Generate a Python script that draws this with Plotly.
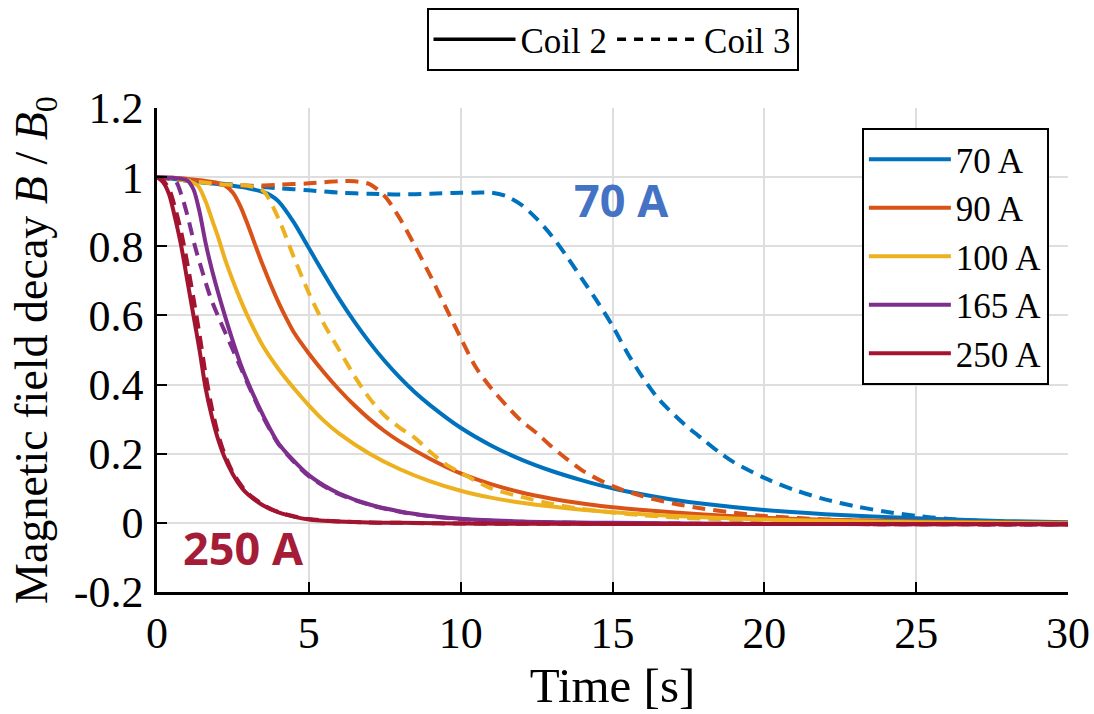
import plotly.graph_objects as go

# Normalised field decay B/B0 after quench, coil 2 (solid) and coil 3 (dashed)
currents = ["70 A", "90 A", "100 A", "165 A", "250 A"]
colors = ["#0072BD", "#D95319", "#EDB120", "#7E2F8E", "#A2142F"]

# --- coil 2 ---
t_c2_70 = [0, 0.5, 1, 1.5, 2, 2.5, 3, 3.5, 3.75, 4, 4.5, 5, 5.5, 6, 6.5, 7, 7.5, 8, 8.5, 9, 10,
           11, 12, 13, 14, 15, 16, 17, 18, 20, 22, 25, 28, 30]
b_c2_70 = [1, 0.995, 0.99, 0.985, 0.98, 0.975, 0.968, 0.957, 0.947, 0.93, 0.87, 0.795, 0.72,
           0.648, 0.582, 0.522, 0.468, 0.42, 0.377, 0.34, 0.275, 0.224, 0.183, 0.15, 0.123, 0.1,
           0.082, 0.067, 0.055, 0.037, 0.025, 0.013, 0.005, 0.002]

t_c2_90 = [0, 0.5, 1, 1.5, 2, 2.25, 2.5, 2.75, 3.0, 3.25, 3.5, 3.75, 4.0, 4.25, 4.5, 5, 5.5, 6,
           6.5, 7, 7.5, 8, 9, 10, 11, 12, 13, 14, 15, 16, 18, 20, 22, 25, 30]
b_c2_90 = [1, 0.998, 0.995, 0.99, 0.983, 0.975, 0.955, 0.915, 0.86, 0.8, 0.742, 0.688, 0.638,
           0.593, 0.552, 0.49, 0.435, 0.385, 0.34, 0.3, 0.265, 0.235, 0.185, 0.143, 0.112, 0.088,
           0.07, 0.056, 0.045, 0.037, 0.024, 0.015, 0.009, 0.004, 0.0]

t_c2_100 = [0, 0.5, 1.0, 1.35, 1.6, 1.8, 2.0, 2.25, 2.5, 2.75, 3.0, 3.5, 4.0, 4.5, 5.0, 5.5, 6.0,
            7.0, 8.0, 9.0, 10, 11, 12, 13, 14, 15, 16, 18, 20, 22, 25, 30]
b_c2_100 = [1, 0.998, 0.99, 0.975, 0.93, 0.88, 0.83, 0.76, 0.7, 0.645, 0.595, 0.51, 0.445, 0.39,
            0.34, 0.295, 0.258, 0.2, 0.155, 0.12, 0.093, 0.073, 0.058, 0.047, 0.038, 0.031, 0.025,
            0.016, 0.01, 0.006, 0.002, -0.002]

t_c2_165 = [0, 0.5, 1.0, 1.2, 1.4, 1.6, 1.8, 2.0, 2.25, 2.5, 2.75, 3.0, 3.5, 4.0, 4.5, 5.0, 5.5,
            6.0, 7.0, 8.0, 9.0, 10, 12, 15, 20, 25, 30]
b_c2_165 = [1, 0.998, 0.99, 0.965, 0.9, 0.81, 0.735, 0.67, 0.595, 0.525, 0.46, 0.405, 0.31, 0.23,
            0.18, 0.138, 0.108, 0.085, 0.053, 0.033, 0.02, 0.012, 0.004, 0, -0.003, -0.003, -0.004]

t_c2_250 = [0, 0.2, 0.4, 0.6, 0.8, 1.0, 1.2, 1.4, 1.6, 1.8, 2.0, 2.2, 2.5, 2.8, 3.0, 3.5, 4.0,
            4.5, 5.0, 6, 7, 8, 10, 15, 20, 25, 30]
b_c2_250 = [1, 0.985, 0.95, 0.88, 0.8, 0.7, 0.6, 0.5, 0.39, 0.31, 0.245, 0.195, 0.14, 0.1, 0.082,
            0.05, 0.03, 0.018, 0.01, 0.004, 0.001, 0, -0.002, -0.003, -0.003, -0.004, -0.004]

# --- coil 3 ---
t_c3_70 = [0, 0.5, 1, 1.5, 2, 3, 4, 5, 6, 7, 8, 9, 10, 10.5, 11, 11.5, 12, 12.5, 13, 13.5, 14,
           14.5, 15, 15.5, 16, 16.5, 17, 17.5, 18, 18.5, 19, 20, 21, 22, 23, 24, 25, 26, 27, 28, 30]
b_c3_70 = [1, 0.995, 0.99, 0.985, 0.982, 0.975, 0.968, 0.962, 0.955, 0.952, 0.95, 0.952, 0.955,
           0.955, 0.955, 0.945, 0.92, 0.88, 0.83, 0.77, 0.705, 0.64, 0.57, 0.49, 0.42, 0.36,
           0.315, 0.275, 0.24, 0.205, 0.175, 0.13, 0.095, 0.068, 0.048, 0.032, 0.02, 0.012,
           0.006, 0.002, -0.005]

t_c3_90 = [0, 0.5, 1, 1.5, 2, 3, 4, 5, 6, 6.5, 7, 7.5, 8, 8.5, 9, 9.5, 10, 10.5, 11, 11.5, 12,
           12.5, 13, 14, 15, 16, 17, 18, 19, 20, 22, 25, 30]
b_c3_90 = [1, 0.995, 0.99, 0.985, 0.98, 0.975, 0.978, 0.982, 0.988, 0.988, 0.98, 0.945, 0.88,
           0.8, 0.715, 0.625, 0.535, 0.45, 0.39, 0.34, 0.295, 0.26, 0.22, 0.152, 0.106, 0.077,
           0.056, 0.041, 0.029, 0.02, 0.01, 0.003, -0.005]

t_c3_100 = [0, 0.5, 1, 1.5, 2, 2.5, 3, 3.5, 4, 4.5, 5, 5.5, 6, 6.5, 7, 7.5, 8, 8.5, 9, 9.5, 10,
            11, 12, 13, 14, 15, 16, 17, 18, 20, 22, 25, 30]
b_c3_100 = [1, 0.995, 0.99, 0.985, 0.98, 0.978, 0.975, 0.96, 0.88, 0.77, 0.665, 0.575, 0.5,
            0.425, 0.36, 0.31, 0.275, 0.245, 0.205, 0.17, 0.145, 0.1, 0.075, 0.055, 0.04, 0.03,
            0.022, 0.016, 0.012, 0.007, 0.003, 0.0, -0.005]

t_c3_165 = [0, 0.3, 0.6, 0.8, 1.0, 1.25, 1.5, 1.75, 2.0, 2.25, 2.5, 2.75, 3.0, 3.5, 4.0, 4.5,
            5.0, 5.5, 6.0, 7.0, 8.0, 9.0, 10, 12, 15, 20, 25, 30]
b_c3_165 = [1, 0.998, 0.99, 0.95, 0.89, 0.8, 0.725, 0.655, 0.6, 0.55, 0.5, 0.45, 0.4, 0.305,
            0.228, 0.177, 0.135, 0.106, 0.083, 0.052, 0.032, 0.019, 0.011, 0.003, -0.001,
            -0.003, -0.004, -0.005]

t_c3_250 = [0, 0.2, 0.4, 0.6, 0.8, 1.0, 1.2, 1.4, 1.6, 1.8, 2.0, 2.2, 2.5, 2.8, 3.0, 3.5, 4.0,
            4.5, 5.0, 6, 7, 8, 10, 15, 20, 25, 30]
b_c3_250 = [1, 0.99, 0.965, 0.91, 0.84, 0.75, 0.65, 0.545, 0.43, 0.335, 0.26, 0.205, 0.145,
            0.105, 0.085, 0.052, 0.031, 0.019, 0.011, 0.004, 0.001, 0, -0.002, -0.003, -0.003,
            -0.004, -0.005]

coil2 = [(t_c2_70, b_c2_70), (t_c2_90, b_c2_90), (t_c2_100, b_c2_100),
         (t_c2_165, b_c2_165), (t_c2_250, b_c2_250)]
coil3 = [(t_c3_70, b_c3_70), (t_c3_90, b_c3_90), (t_c3_100, b_c3_100),
         (t_c3_165, b_c3_165), (t_c3_250, b_c3_250)]

coil_names = ["Coil 2", "Coil 3"]

x_ticks = [0, 5, 10, 15, 20, 25, 30]
y_ticks = [-0.2, 0, 0.2, 0.4, 0.6, 0.8, 1, 1.2]
y_ticktext = ["-0.2", "0", "0.2", "0.4", "0.6", "0.8", "1", "1.2"]

label_70 = ("70 A", 15.3, 0.935, "#4472C4")
label_250 = ("250 A", 2.86, -0.072, "#A51C38")

SERIF = "'Liberation Serif', 'DejaVu Serif', serif"
LW = 4
DASH = "13px,8px"

fig = go.Figure()

for name, col, (t2, b2), (t3, b3) in zip(currents, colors, coil2, coil3):
    fig.add_trace(go.Scatter(x=t2, y=b2, mode="lines", name=name,
                             line=dict(color=col, width=LW, shape="spline", smoothing=0.8),
                             legend="legend"))
    fig.add_trace(go.Scatter(x=t3, y=b3, mode="lines", name=name, showlegend=False,
                             line=dict(color=col, width=LW, dash=DASH, shape="spline",
                                       smoothing=0.8),
                             legend="legend"))

# line-style key
fig.add_trace(go.Scatter(x=[None], y=[None], mode="lines", name=coil_names[0],
                         line=dict(color="black", width=3.5), legend="legend2"))
fig.add_trace(go.Scatter(x=[None], y=[None], mode="lines", name=coil_names[1],
                         line=dict(color="black", width=3.5, dash="9px,8px"), legend="legend2"))

for text, xv, yv, col in (label_70, label_250):
    fig.add_annotation(x=xv, y=yv, text=text, showarrow=False,
                       font=dict(family="Open Sans", size=45, color=col, weight="bold"))

axis_common = dict(
    showline=True, linecolor="black", linewidth=2.5,
    ticks="inside", ticklen=10, tickwidth=2, tickcolor="black",
    showgrid=True, gridcolor="#dedede", gridwidth=1.5,
    zeroline=False, mirror=False,
    tickfont=dict(family=SERIF, size=44, color="black"),
)

fig.update_layout(
    width=1094, height=714,
    margin=dict(l=157, r=26, t=108, b=122, autoexpand=False),
    paper_bgcolor="white", plot_bgcolor="white",
    xaxis=dict(range=[0, 30], tickvals=x_ticks,
               title=dict(text="Time [s]", font=dict(family=SERIF, size=49, color="black"),
                          standoff=2),
               ticklabelstandoff=0, **axis_common),
    yaxis=dict(range=[-0.2, 1.2], tickvals=y_ticks, ticktext=y_ticktext,
               title=dict(text="Magnetic field decay <i>B</i> / <i>B</i><sub>0</sub>",
                          font=dict(family=SERIF, size=46, color="black"), standoff=12),
               ticklabelstandoff=2, **axis_common),
    legend=dict(x=0.979, y=0.9587, xanchor="right", yanchor="top",
                bgcolor="white", bordercolor="black", borderwidth=2,
                font=dict(family=SERIF, size=35, color="black"),
                itemwidth=82, tracegroupgap=0),
    legend2=dict(x=0.5, y=1.2066, xanchor="center", yanchor="top", orientation="h",
                 bgcolor="white", bordercolor="black", borderwidth=2,
                 font=dict(family=SERIF, size=35, color="black"), itemwidth=82),
)

fig.write_html("out.html")
